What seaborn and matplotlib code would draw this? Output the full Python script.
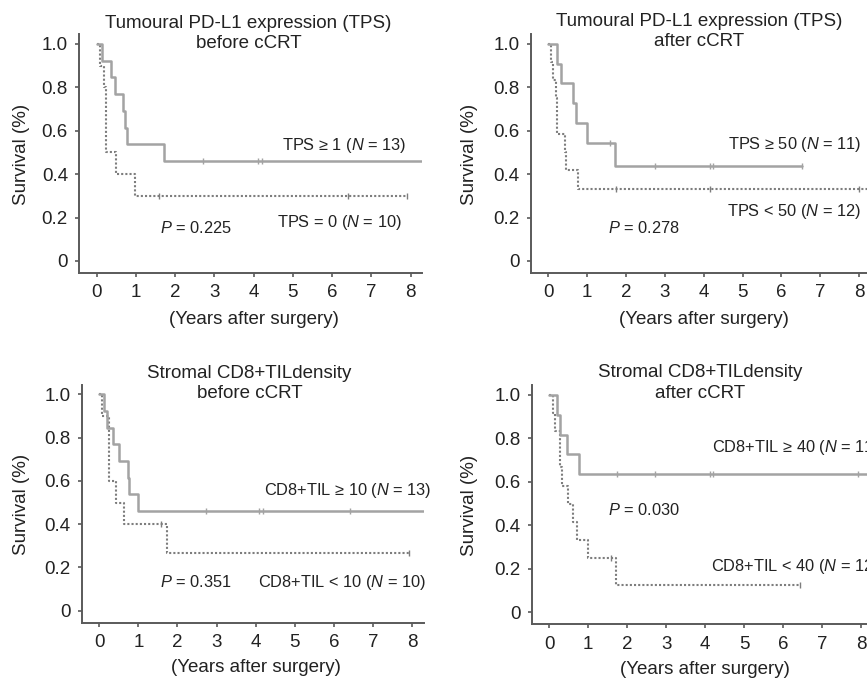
import numpy as np
import pandas as pd
import matplotlib
matplotlib.use('Agg')
import matplotlib.pyplot as plt
import seaborn as sns

# 標題
titles = ['Tumoural PD-L1 expression (TPS)\nbefore cCRT',
          'Tumoural PD-L1 expression (TPS)\nafter cCRT',
          'Stromal CD8+TILdensity\nbefore cCRT',
          'Stromal CD8+TILdensity\nafter cCRT']

# KM 曲線 (年, 存活率) —— 高表現組 / 低表現組
p1_hi_t = [0, 0.13, 0.36, 0.47, 0.68, 0.73, 0.78, 1.72, 8.6]
p1_hi_s = [1.0, 0.923, 0.846, 0.769, 0.692, 0.615, 0.538, 0.462, 0.462]
p1_hi_cens = [2.72, 4.12, 4.20]
p1_lo_t = [0, 0.08, 0.19, 0.25, 0.49, 0.98, 7.90]
p1_lo_s = [1.0, 0.9, 0.8, 0.5, 0.4, 0.3, 0.3]
p1_lo_cens = [1.58, 6.41, 7.90]

p2_hi_t = [0, 0.24, 0.34, 0.65, 0.71, 0.99, 1.73, 6.52]
p2_hi_s = [1.0, 0.909, 0.818, 0.727, 0.636, 0.545, 0.436, 0.436]
p2_hi_cens = [1.59, 2.74, 4.17, 4.25, 6.52]
p2_lo_t = [0, 0.08, 0.12, 0.20, 0.24, 0.44, 0.47, 0.76, 8.6]
p2_lo_s = [1.0, 0.917, 0.833, 0.75, 0.583, 0.5, 0.417, 0.333, 0.333]
p2_lo_cens = [1.74, 4.17, 8.00]

p3_hi_t = [0, 0.12, 0.19, 0.34, 0.51, 0.73, 0.77, 1.00, 8.6]
p3_hi_s = [1.0, 0.923, 0.846, 0.769, 0.692, 0.615, 0.538, 0.462, 0.462]
p3_hi_cens = [2.72, 4.09, 4.19, 6.42]
p3_lo_t = [0, 0.08, 0.25, 0.43, 0.64, 1.72, 7.93]
p3_lo_s = [1.0, 0.9, 0.6, 0.5, 0.4, 0.267, 0.267]
p3_lo_cens = [1.59, 7.93]

p4_hi_t = [0, 0.20, 0.28, 0.45, 0.78, 8.6]
p4_hi_s = [1.0, 0.909, 0.818, 0.727, 0.636, 0.636]
p4_hi_cens = [1.75, 2.71, 4.13, 4.21, 7.92]
p4_lo_t = [0, 0.11, 0.15, 0.28, 0.34, 0.48, 0.62, 0.71, 1.00, 1.72, 6.44]
p4_lo_s = [1.0, 0.917, 0.833, 0.667, 0.583, 0.5, 0.417, 0.333, 0.25, 0.125, 0.125]
p4_lo_cens = [1.60, 6.44]

# 組別標籤與 P 值
hi_labels = [r'TPS ≥ 1 ($\mathit{N}$ = 13)', r'TPS ≥ 50 ($\mathit{N}$ = 11)',
             r'CD8+TIL ≥ 10 ($\mathit{N}$ = 13)', r'CD8+TIL ≥ 40 ($\mathit{N}$ = 11)']
lo_labels = [r'TPS = 0 ($\mathit{N}$ = 10)', r'TPS < 50 ($\mathit{N}$ = 12)',
             r'CD8+TIL < 10 ($\mathit{N}$ = 10)', r'CD8+TIL < 40 ($\mathit{N}$ = 12)']
p_values = ['0.225', '0.278', '0.351', '0.030']

x_ticks = [0, 1, 2, 3, 4, 5, 6, 7, 8]
y_ticks = [0, 0.2, 0.4, 0.6, 0.8, 1.0]
y_ticklabels = ['0', '0.2', '0.4', '0.6', '0.8', '1.0']

sns.set_style('ticks')
plt.rcParams['font.family'] = ['Liberation Sans', 'DejaVu Sans']
plt.rcParams['mathtext.fontset'] = 'custom'
plt.rcParams['mathtext.rm'] = 'Liberation Sans'
plt.rcParams['mathtext.it'] = 'Liberation Sans:italic'

W, H = 867, 682
fig = plt.figure(figsize=(W / 100, H / 100), dpi=100)
fig.patch.set_facecolor('white')

# (左, 上) 像素位置, 每年像素, 每單位存活率像素
layout = [(79.0, 34.2, 39.25, 217.0),
          (530.5, 34.2, 38.9, 217.0),
          (81.7, 384.6, 39.1, 216.4),
          (531.5, 385.2, 39.0, 217.3)]
xlim = (-0.45, 8.3)
ylim = (-0.056, 1.045)

curves = [
    (p1_hi_t, p1_hi_s, p1_hi_cens, p1_lo_t, p1_lo_s, p1_lo_cens),
    (p2_hi_t, p2_hi_s, p2_hi_cens, p2_lo_t, p2_lo_s, p2_lo_cens),
    (p3_hi_t, p3_hi_s, p3_hi_cens, p3_lo_t, p3_lo_s, p3_lo_cens),
    (p4_hi_t, p4_hi_s, p4_hi_cens, p4_lo_t, p4_lo_s, p4_lo_cens),
]

# 文字位置 (資料座標)
hi_pos = [(6.31, 0.531, 'center'), (6.34, 0.535, 'center'), (6.35, 0.555, 'center'), (4.19, 0.759, 'left')]
lo_pos = [(6.19, 0.176, 'center'), (6.33, 0.227, 'center'), (6.22, 0.131, 'center'), (4.14, 0.210, 'left')]
p_pos = [(2.53, 0.153), (2.47, 0.153), (2.46, 0.131), (2.44, 0.471)]
title_pos = [(0.494, 1.004), (0.496, 1.012), (0.490, 1.004), (0.495, 1.009)]
ylabel_x = [-0.144, -0.154, -0.152, -0.157]
xlabel_y = [-0.158, -0.158, -0.151, -0.151]

SOLID = '#a3a3a3'
DOT = '#7d7d7d'
SPINE = '#5a5a5a'
TXT = '#222222'


def surv_at(t, s, tc):
    idx = np.searchsorted(np.array(t), np.array(tc), side='right') - 1
    return np.array(s)[idx]


for i, (left, top, sx, sy) in enumerate(layout):
    w = (xlim[1] - xlim[0]) * sx
    h = (ylim[1] - ylim[0]) * sy
    ax = fig.add_axes([left / W, (H - top - h) / H, w / W, h / H])
    hi_t, hi_s, hi_c, lo_t, lo_s, lo_c = curves[i]

    df_hi = pd.DataFrame({'t': hi_t, 's': hi_s})
    df_lo = pd.DataFrame({'t': lo_t, 's': lo_s})
    sns.lineplot(data=df_lo, x='t', y='s', ax=ax, color=DOT, lw=1.5,
                 linestyle=(0, (1, 1)), drawstyle='steps-post', estimator=None, sort=False)
    sns.lineplot(data=df_hi, x='t', y='s', ax=ax, color=SOLID, lw=1.8,
                 drawstyle='steps-post', estimator=None, sort=False)
    ax.plot(hi_c, surv_at(hi_t, hi_s, hi_c), ls='none', marker='|', ms=4.5, mew=1.0, color=SOLID)
    ax.plot(lo_c, surv_at(lo_t, lo_s, lo_c), ls='none', marker='|', ms=4.5, mew=1.0, color=DOT)

    ax.set_xlim(*xlim)
    ax.set_ylim(*ylim)
    ax.set_xticks(x_ticks)
    ax.set_yticks(y_ticks)
    ax.set_yticklabels(y_ticklabels)
    sns.despine(ax=ax)
    for sp in ['left', 'bottom']:
        ax.spines[sp].set_color(SPINE)
        ax.spines[sp].set_linewidth(1.4)
    ax.tick_params(axis='both', direction='out', length=3, width=1.2, color=SPINE,
                   labelsize=13.5, labelcolor=TXT, pad=5)
    ax.set_xlabel('(Years after surgery)', fontsize=13.5, color=TXT)
    ax.set_ylabel('Survival (%)', fontsize=13.5, color=TXT)
    ax.xaxis.set_label_coords((4 - xlim[0]) / (xlim[1] - xlim[0]), xlabel_y[i])
    ax.yaxis.set_label_coords(ylabel_x[i], 0.497)

    tx, ty = title_pos[i]
    ax.text(tx, ty, titles[i], transform=ax.transAxes, ha='center', va='center',
            fontsize=13.5, color=TXT, linespacing=1.25, clip_on=False)

    x, y, ha = hi_pos[i]
    ax.text(x, y, hi_labels[i], ha=ha, va='center', fontsize=11.8, color=TXT, clip_on=False)
    x, y, ha = lo_pos[i]
    ax.text(x, y, lo_labels[i], ha=ha, va='center', fontsize=11.8, color=TXT, clip_on=False)
    x, y = p_pos[i]
    ax.text(x, y, r'$\mathit{P}$ = ' + p_values[i], ha='center', va='center',
            fontsize=11.8, color=TXT)

fig.savefig('out.png', dpi=100, facecolor='white')
